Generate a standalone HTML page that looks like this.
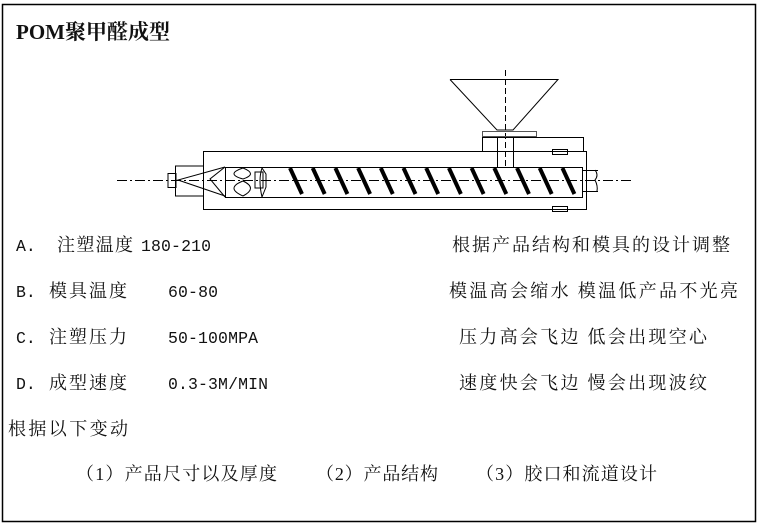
<!DOCTYPE html>
<html><head><meta charset="utf-8"><style>
html,body{margin:0;padding:0;background:#fff;}
svg{display:block}
text{font-family:"Liberation Serif","Noto Serif CJK SC",serif;font-size:18px;fill:#111}
.m{font-family:"Liberation Mono",monospace;font-size:16.5px}
</style></head><body>
<svg width="763" height="525" viewBox="0 0 763 525" xmlns="http://www.w3.org/2000/svg">
<rect x="2.5" y="4.5" width="753" height="517" fill="none" stroke="#000" stroke-width="1.5"/>
<text x="16" y="39" style="font-size:21px;font-weight:bold">POM聚甲醛成型</text>
<g fill="none" stroke="#000" stroke-width="1">
<line x1="117" y1="180.5" x2="632" y2="180.5" stroke-dasharray="10,3,2,3"/>
<line x1="505.5" y1="70" x2="505.5" y2="168" stroke-dasharray="6,3"/>
<polyline points="450,79.5 558,79.5 513,130 497,130 450,79.5"/>
<rect x="482.5" y="131.5" width="54" height="5" stroke="#555"/>
<polyline points="482.5,151 482.5,137.5 583.5,137.5 583.5,151"/>
<rect x="497.5" y="137.5" width="16" height="30"/>
<rect x="203.5" y="151.5" width="383" height="58"/>
<rect x="225.5" y="167.5" width="357" height="30"/>
<rect x="552.5" y="149.5" width="15" height="5"/>
<rect x="552.5" y="206.5" width="15" height="5"/>
<rect x="175.5" y="166" width="28" height="30"/>
<rect x="168" y="173.5" width="8" height="14"/>
<polyline points="225,167 178,180 225,196"/>
<polyline points="225,167 210,179 225,197"/>
<path d="M243,168 Q225,174 243,179 M243,181 Q225,188 243,196 M243,168 Q258,174 243,179 M243,181 Q258,188 243,196"/>
<path d="M262,168 Q258,180 262,197 M262,168 L266,174 L266,187 L262,197 M255,172 h8 v16 h-8z"/>
<line x1="582" y1="170.5" x2="598" y2="170.5"/>
<line x1="582" y1="191.5" x2="598" y2="191.5"/>
<path d="M595,170 q4,5 0,10 q3,6 2,11"/>
</g>
<g stroke="#000" stroke-width="4" fill="none">
<line x1="290" y1="168" x2="302" y2="194"/><line x1="312.7" y1="168" x2="324.7" y2="194"/><line x1="335.4" y1="168" x2="347.4" y2="194"/><line x1="358.1" y1="168" x2="370.1" y2="194"/><line x1="380.8" y1="168" x2="392.8" y2="194"/><line x1="403.5" y1="168" x2="415.5" y2="194"/><line x1="426.2" y1="168" x2="438.2" y2="194"/><line x1="448.9" y1="168" x2="460.9" y2="194"/><line x1="471.6" y1="168" x2="483.6" y2="194"/><line x1="494.3" y1="168" x2="506.3" y2="194"/><line x1="517" y1="168" x2="529" y2="194"/><line x1="539.7" y1="168" x2="551.7" y2="194"/><line x1="562.4" y1="168" x2="574.4" y2="194"/>
</g>
<text class="m" x="16" y="251">A.</text><text x="57" y="251" textLength="76">注塑温度</text><text class="m" x="141" y="251" textLength="70">180-210</text>
<text x="452" y="251" textLength="278">根据产品结构和模具的设计调整</text>
<text class="m" x="16" y="297">B.</text><text x="49" y="297" textLength="78">模具温度</text><text class="m" x="168" y="297" textLength="50">60-80</text>
<text x="449" y="297" textLength="289">模温高会缩水 模温低产品不光亮</text>
<text class="m" x="16" y="343">C.</text><text x="49" y="343" textLength="78">注塑压力</text><text class="m" x="168" y="343" textLength="90">50-100MPA</text>
<text x="459" y="343" textLength="248">压力高会飞边 低会出现空心</text>
<text class="m" x="16" y="389">D.</text><text x="49" y="389" textLength="78">成型速度</text><text class="m" x="168" y="389" textLength="100">0.3-3M/MIN</text>
<text x="459" y="389" textLength="248">速度快会飞边 慢会出现波纹</text>
<text x="8" y="435" textLength="120">根据以下变动</text>
<text x="76" y="480" textLength="201">（1）产品尺寸以及厚度</text>
<text x="316" y="480" textLength="122">（2）产品结构</text>
<text x="476" y="480" textLength="181">（3）胶口和流道设计</text>
</svg>
</body></html>
